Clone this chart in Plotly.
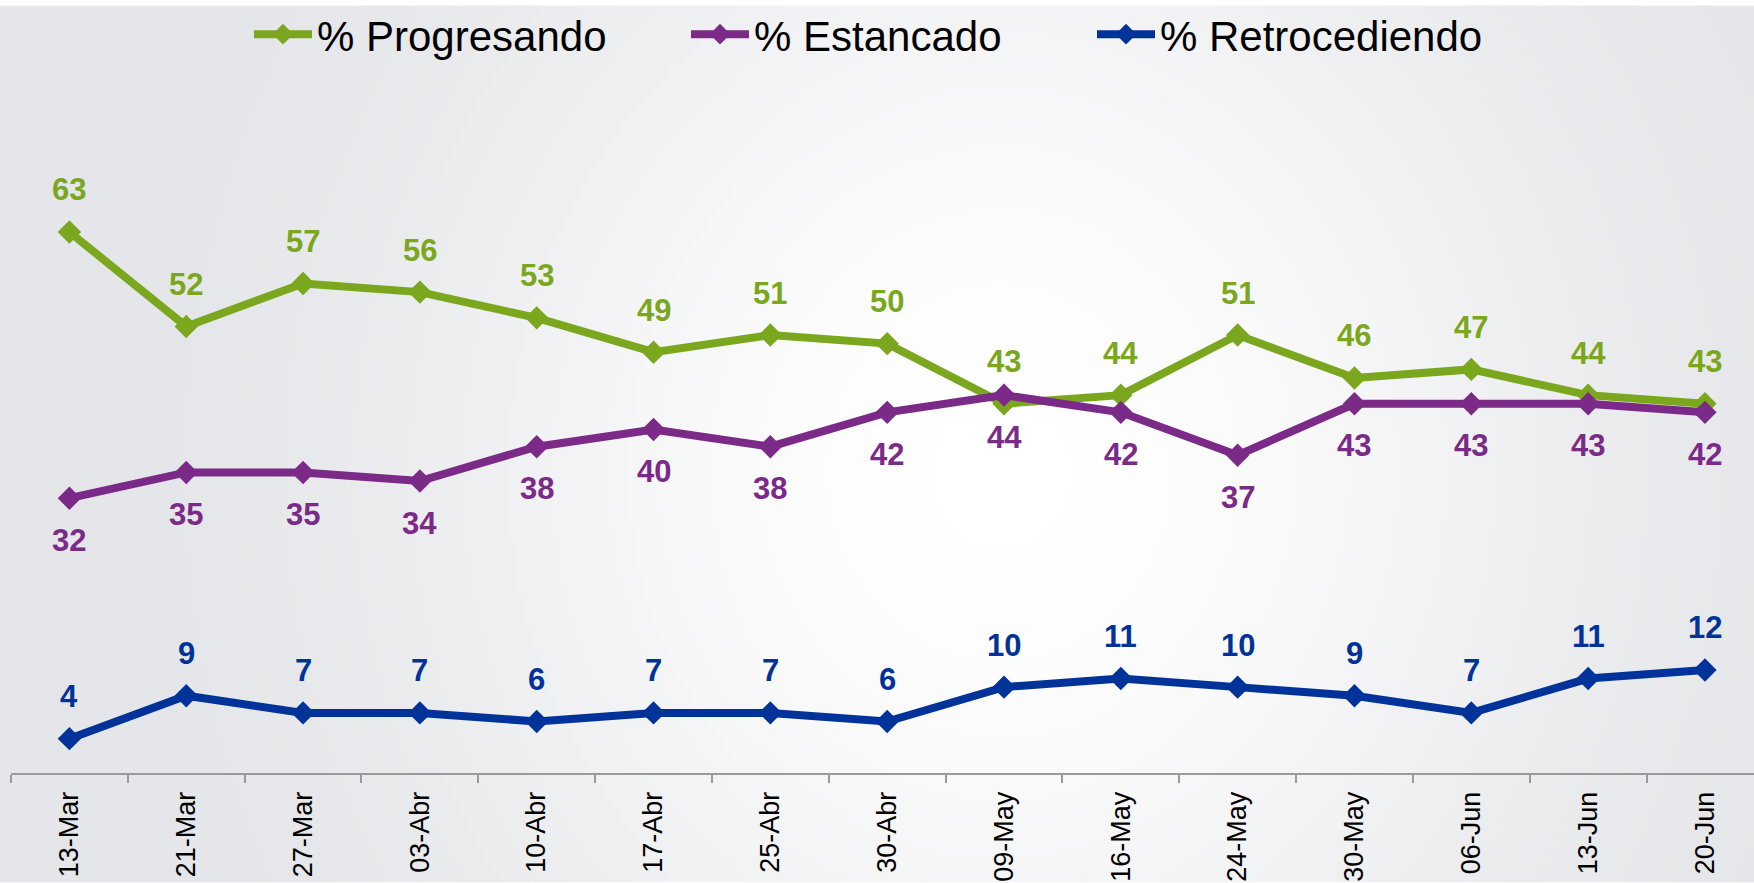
import plotly.graph_objects as go
import zlib, struct, base64

# ---------------- data ----------------
fechas = ["13-Mar", "21-Mar", "27-Mar", "03-Abr", "10-Abr", "17-Abr", "25-Abr", "30-Abr",
          "09-May", "16-May", "24-May", "30-May", "06-Jun", "13-Jun", "20-Jun"]
progresando = [63, 52, 57, 56, 53, 49, 51, 50, 43, 44, 51, 46, 47, 44, 43]
estancado = [32, 35, 35, 34, 38, 40, 38, 42, 44, 42, 37, 43, 43, 43, 42]
retrocediendo = [4, 9, 7, 7, 6, 7, 7, 6, 10, 11, 10, 9, 7, 11, 12]

series_names = ["% Progresando", "% Estancado", "% Retrocediendo"]
series_values = [progresando, estancado, retrocediendo]
series_colors = ["#7AA71D", "#7B2A88", "#00339A"]
label_side = [1, -1, 1]  # +1 label above, -1 label below

FONT = "Liberation Sans, Arial, sans-serif"

# ---------------- background gradient (PNG built in memory) ----------------
W, H = 1754, 883
IW, IH = 220, 111


def make_png(w, h, pixel):
    raw = bytearray()
    for j in range(h):
        raw.append(0)
        for i in range(w):
            raw.extend(pixel(i, j))
    def chunk(tag, data):
        c = struct.pack(">I", len(data)) + tag + data
        return c + struct.pack(">I", zlib.crc32(tag + data) & 0xffffffff)
    png = b"\x89PNG\r\n\x1a\n"
    png += chunk(b"IHDR", struct.pack(">IIBBBBB", w, h, 8, 2, 0, 0, 0))
    png += chunk(b"IDAT", zlib.compress(bytes(raw), 9))
    png += chunk(b"IEND", b"")
    return png


edge = (229, 230, 233)
center = (255, 255, 255)
cx, cy, rx, ry = 1000.0, 470.0, 900.0, 1000.0


def pix(i, j):
    x = (i + 0.5) / IW * W
    y = (j + 0.5) / IH * H
    d = (((x - cx) / rx) ** 2 + ((y - cy) / ry) ** 2) ** 0.5
    t = min(1.0, d)
    t = t * t * (3 - 2 * t)
    return bytes(int(round(center[k] * (1 - t) + edge[k] * t)) for k in range(3))


bg_uri = "data:image/png;base64," + base64.b64encode(make_png(IW, IH, pix)).decode()

# ---------------- layout geometry ----------------
ML, MR, MT, MB = 11, 0, 81, 110
PW = W - ML - MR
PH = H - MT - MB

fig = go.Figure()

legend_ids = ["legend", "legend2", "legend3"]
for name, vals, col, lg in zip(series_names, series_values, series_colors, legend_ids):
    fig.add_trace(go.Scatter(
        x=fechas, y=vals, name=name, mode="lines+markers",
        line=dict(color=col, width=8),
        marker=dict(symbol="diamond", size=18, color=col),
        cliponaxis=False, legend=lg, hoverinfo="x+y+name",
    ))

annotations = []
for vals, col, side in zip(series_values, series_colors, label_side):
    for f, v in zip(fechas, vals):
        annotations.append(dict(
            x=f, y=v, xref="x", yref="y", text=str(v), showarrow=False,
            yshift=42 * side, font=dict(family=FONT, size=31, color=col, weight="bold"),
        ))

legend_starts = [249, 686, 1092]
legends = {}
for lg, xs in zip(legend_ids, legend_starts):
    legends[lg] = dict(
        x=(xs - ML) / PW, xanchor="left", y=(MT + PH - 29) / PH, yanchor="middle",
        orientation="h", bgcolor="rgba(0,0,0,0)", borderwidth=0,
        font=dict(family=FONT, size=42, color="#000000"), itemwidth=58,
    )

fig.update_layout(
    width=W, height=H,
    margin=dict(l=ML, r=MR, t=MT, b=MB),
    paper_bgcolor="#ffffff",
    plot_bgcolor="rgba(0,0,0,0)",
    showlegend=True,
    annotations=annotations,
    images=[dict(
        source=bg_uri, xref="paper", yref="paper",
        x=-ML / PW, y=(PH + MT) / PH, sizex=W / PW, sizey=H / PH,
        xanchor="left", yanchor="top", sizing="stretch", layer="below",
    )],
    xaxis=dict(
        type="category", range=[-0.5, 14.42], showgrid=False, zeroline=False,
        showline=True, linecolor="#9a9a9a", linewidth=2,
        ticks="outside", ticklen=8, tickcolor="#9a9a9a", tickwidth=2,
        tickson="boundaries", tickangle=-90,
        tickfont=dict(family=FONT, size=27, color="#000000"),
        ticklabelstandoff=6,
    ),
    yaxis=dict(
        range=[0, 80], visible=False, showgrid=False, zeroline=False,
    ),
    **legends,
)

fig.write_html(
    "out.html",
    config={"displayModeBar": False},
    post_script="document.body.style.margin='0';document.body.style.overflow='hidden';",
)
